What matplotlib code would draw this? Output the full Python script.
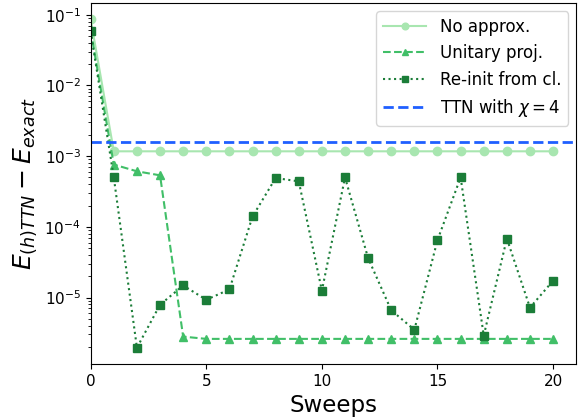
import numpy as np
import matplotlib
matplotlib.use("Agg")
import matplotlib.pyplot as plt

sweeps = list(range(21))
no_approx = [0.086] + [1.17e-3] * 20
unitary = [0.06, 7.6e-4, 6.1e-4, 5.35e-4, 2.8e-6] + [2.6e-6] * 16
reinit = [0.058, 5.0e-4, 1.95e-6, 7.9e-6, 1.48e-5, 9.3e-6, 1.3e-5, 1.4e-4,
          4.9e-4, 4.4e-4, 1.25e-5, 5.0e-4, 3.6e-5, 6.6e-6, 3.5e-6, 6.5e-5,
          5.0e-4, 2.9e-6, 6.8e-5, 7.2e-6, 1.73e-5]
ttn_chi4 = 1.58e-3

fig, ax = plt.subplots(figsize=(5.85, 4.2), dpi=100)
ax.plot(sweeps, no_approx, "-o", color="#a8e6b0", ms=6, lw=1.5, label="No approx.")
ax.plot(sweeps, unitary, "--^", color="#41bf68", ms=6, lw=1.5, label="Unitary proj.")
ax.plot(sweeps, reinit, ":s", color="#1b7d38", ms=6, lw=1.5, label="Re-init from cl.")
ax.axhline(ttn_chi4, color="#1f5fff", ls="--", lw=2, label=r"TTN with $\chi = 4$")

ax.set_yscale("log")
ax.set_xlim(0, 21)
ax.set_xticks([0, 5, 10, 15, 20])
ax.tick_params(labelsize=11)
ax.set_xlabel("Sweeps", fontsize=16.5)
ax.set_ylabel(r"$E_{(h)TTN} - E_{exact}$", fontsize=18)
ax.legend(fontsize=12, loc="upper right", handlelength=2.6, markerscale=0.8)

fig.subplots_adjust(left=0.155, right=0.985, top=0.993, bottom=0.133)
fig.savefig("out.png")
